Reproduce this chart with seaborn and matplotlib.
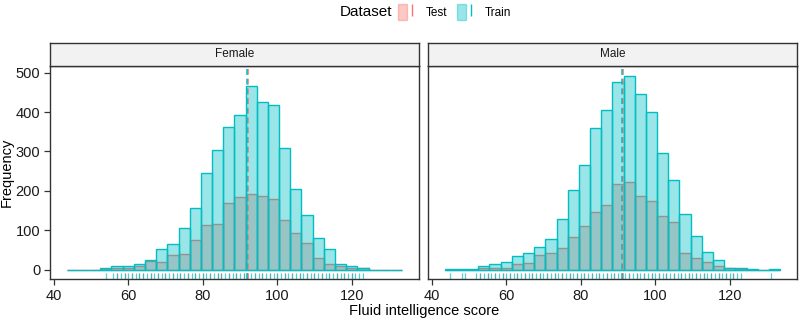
import numpy as np
import pandas as pd
import seaborn as sns
import matplotlib.pyplot as plt
from matplotlib.patches import Patch
from matplotlib.lines import Line2D
from matplotlib.legend_handler import HandlerTuple

# bin centres of the histogram (width 3)
bin_centers = [45, 48, 51, 54, 57, 60, 63, 66, 69, 72, 75, 78, 81, 84, 87,
               90, 93, 96, 99, 102, 105, 108, 111, 114, 117, 120, 123, 126, 129, 132]
bin_width = 3

female_train = [0, 0, 0, 3, 8, 10, 15, 25, 51, 65, 105, 156, 244, 304, 361,
                393, 465, 425, 418, 308, 205, 138, 80, 52, 13, 9, 5, 0, 0, 0]
female_test = [0, 0, 0, 1, 3, 4, 8, 22, 19, 38, 40, 74, 112, 116, 168,
               183, 192, 186, 180, 126, 93, 68, 30, 14, 8, 3, 3, 0, 0, 0]
male_train = [1, 2, 1, 8, 13, 19, 35, 43, 58, 77, 129, 201, 265, 359, 405,
              476, 492, 446, 400, 297, 228, 142, 84, 45, 24, 5, 3, 1, 0, 2]
male_test = [0, 0, 0, 3, 3, 5, 13, 17, 38, 41, 54, 83, 111, 147, 164,
             218, 223, 186, 173, 137, 121, 41, 29, 19, 8, 3, 2, 0, 0, 0]

# means (dashed lines)
means = {('Female', 'Test'): 92.05, ('Female', 'Train'): 92.0,
         ('Male', 'Test'): 91.25, ('Male', 'Train'): 91.2}

# distinct observed scores (rug)
female_train_rug = [54, 56, 57, 58, 59, 60, 61, 62, 63, 64, 65, 66, 67, 68, 69, 70,
                    71, 72, 73, 74, 75, 76, 77, 78, 79, 80, 81, 82, 83, 84, 85, 86,
                    87, 88, 89, 90, 91, 92, 93, 94, 95, 96, 97, 98, 99, 100, 101,
                    102, 103, 104, 105, 106, 107, 108, 109, 110, 111, 112, 113, 114,
                    115, 116, 117, 118, 119, 120, 121, 122, 123]
female_test_rug = [57, 59, 61, 63, 64, 66, 68, 70, 72, 74, 76, 78, 80, 82, 84, 85,
                   87, 89, 91, 92, 94, 96, 98, 100, 102, 104, 106, 108, 110, 112,
                   114, 116, 118, 120]
male_train_rug = [45, 48, 49, 52, 53, 54, 55, 56, 57, 58, 59, 60, 61, 62, 63, 64,
                  65, 66, 67, 68, 69, 70, 71, 72, 73, 74, 75, 76, 77, 78, 79, 80,
                  81, 82, 83, 84, 85, 86, 87, 88, 89, 90, 91, 92, 93, 94, 95, 96,
                  97, 98, 99, 100, 101, 102, 103, 104, 105, 106, 107, 108, 109, 110,
                  111, 112, 113, 114, 115, 116, 117, 118, 119, 120, 121, 122, 123, 131]
male_test_rug = [53, 55, 57, 59, 61, 63, 65, 67, 69, 71, 73, 75, 77, 79, 81, 83,
                 85, 87, 89, 91, 93, 95, 97, 99, 101, 103, 105, 107, 109, 111,
                 113, 115, 117, 119, 121]

colors = {'Test': '#F8766D', 'Train': '#00BFC4'}

rows = []
for g, d, vals in [('Female', 'Test', female_test), ('Female', 'Train', female_train),
                   ('Male', 'Test', male_test), ('Male', 'Train', male_train)]:
    for c, v in zip(bin_centers, vals):
        rows.append({'Gender': g, 'Dataset': d, 'Score': c, 'Count': v})
df = pd.DataFrame(rows)
rugs = {('Female', 'Test'): female_test_rug, ('Female', 'Train'): female_train_rug,
        ('Male', 'Test'): male_test_rug, ('Male', 'Train'): male_train_rug}

plt.rcParams['font.family'] = ['Liberation Sans', 'DejaVu Sans']
edges = [bin_centers[0] - bin_width / 2 + bin_width * i for i in range(len(bin_centers) + 1)]

fig = plt.figure(figsize=(8, 3.2), dpi=100)
lefts = [0.0625, 0.535]
pw, pb, ph = 0.461, 0.128, 0.666
for i, g in enumerate(['Female', 'Male']):
    ax = fig.add_axes([lefts[i], pb, pw, ph])
    for d in ['Test', 'Train']:
        sub = df[(df.Gender == g) & (df.Dataset == d)]
        sns.histplot(data=sub, x='Score', weights='Count', bins=edges, ax=ax,
                     color=colors[d], alpha=0.4, edgecolor=colors[d], linewidth=1.0)
    for d in ['Test', 'Train']:
        sns.rugplot(x=rugs[(g, d)], ax=ax, height=0.03, color=colors[d],
                    alpha=0.7, linewidth=0.9)
    for d in ['Test', 'Train']:
        ax.axvline(means[(g, d)], color=colors[d], ls=(0, (3, 2)), lw=1.4, alpha=0.8)
    ax.set_xlim(39, 138)
    ax.set_ylim(-24, 517)
    ax.set_xticks([40, 60, 80, 100, 120])
    ax.set_yticks([0, 100, 200, 300, 400, 500])
    ax.set_xlabel('')
    ax.set_ylabel('')
    ax.tick_params(length=4, width=0.9, color='#333333', labelsize=10.5,
                   labelcolor='#1A1A1A', pad=3)
    if i == 1:
        ax.set_yticklabels([])
        ax.tick_params(axis='y', length=0)
    for s in ax.spines.values():
        s.set_color('#333333')
        s.set_linewidth(1.0)
    # facet strip
    sax = fig.add_axes([lefts[i], pb + ph, pw, 0.072])
    sax.set_xticks([])
    sax.set_yticks([])
    sax.set_facecolor('#F2F2F2')
    for s in sax.spines.values():
        s.set_color('#333333')
        s.set_linewidth(1.0)
    sax.text(0.5, 0.5, g, ha='center', va='center', fontsize=8.5, color='#1A1A1A',
             transform=sax.transAxes)

fig.text(0.53, 0.028, 'Fluid intelligence score', ha='center', va='center', fontsize=10.5)
fig.text(0.009, pb + ph / 2, 'Frequency', rotation=90, ha='center', va='center', fontsize=10.5)

fig.text(0.425, 0.962, 'Dataset', ha='left', va='center', fontsize=11)
handles = [(Patch(facecolor=colors[d], alpha=0.4, edgecolor=colors[d]),
            Line2D([], [], color=colors[d], marker='|', linestyle='None', markersize=9))
           for d in ['Test', 'Train']]
fig.legend(handles, ['Test', 'Train'], handler_map={tuple: HandlerTuple(ndivide=None)},
           loc='center left', bbox_to_anchor=(0.497, 0.962), ncol=2, frameon=False,
           fontsize=8.5, handlelength=1.6, handleheight=1.7, handletextpad=0.8,
           columnspacing=0.8, borderpad=0, borderaxespad=0)

plt.savefig('out.png', dpi=100)
